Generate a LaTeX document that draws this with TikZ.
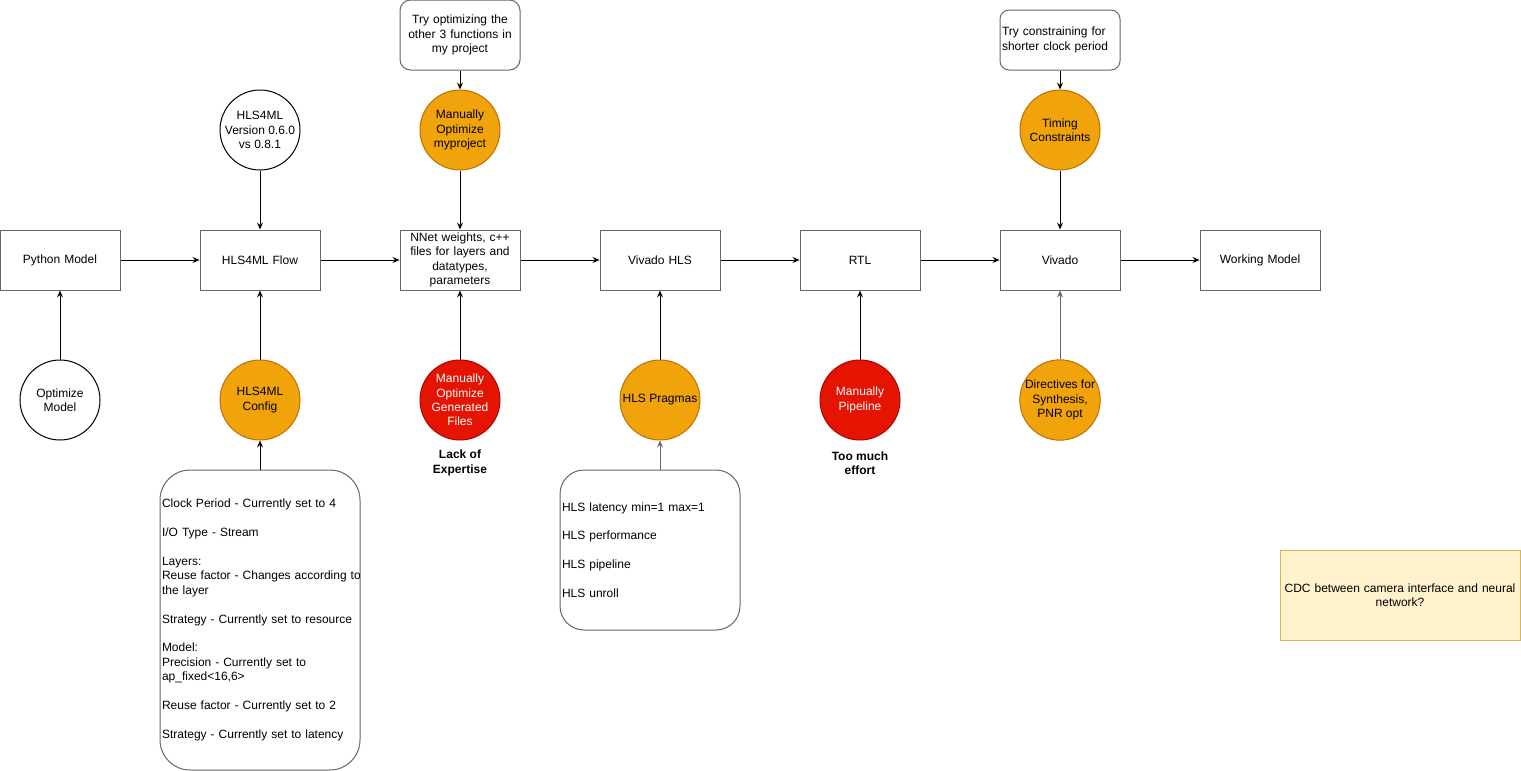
\documentclass[tikz,border=0pt]{standalone}
\usepackage{fontspec}
\setmainfont{Liberation Sans}
\usetikzlibrary{arrows.meta}
\definecolor{orf}{HTML}{F0A30A}
\definecolor{ors}{HTML}{BD7000}
\definecolor{rdf}{HTML}{E51400}
\definecolor{rds}{HTML}{B20000}
\definecolor{grs}{HTML}{666666}
\definecolor{ylf}{HTML}{FFF2CC}
\definecolor{yls}{HTML}{D6B656}
\begin{document}
\begin{tikzpicture}[x=1pt,y=-1pt,
  font=\fontsize{12}{14.4}\selectfont,
  box/.style={draw=grs, line width=1pt, fill=white, minimum width=120pt, minimum height=60pt, text width=116pt, align=center, inner sep=2pt},
  circ/.style={circle, line width=1pt, minimum size=80pt, inner sep=0pt, align=center},
  wcirc/.style={circ, draw=black, fill=white},
  ocirc/.style={circ, draw=ors, fill=orf},
  rcirc/.style={circ, draw=rds, fill=rdf, text=white},
  note/.style={draw=grs, line width=1pt, fill=white, inner sep=2pt},
  arr/.style={-{Stealth[length=7pt,width=6pt,inset=2.5pt]}, line width=1pt},
  bold/.style={font=\fontsize{12}{14.4}\selectfont\bfseries, align=center, inner sep=0pt}
]
\useasboundingbox (0,0) rectangle (1521,771);
% main row
\node[box] (pm) at (60,260) {Python Model};
\node[box] (flow) at (260,260) {HLS4ML Flow};
\node[box] (nnet) at (460,260) {NNet weights, c++\\files for layers and\\datatypes,\\parameters};
\node[box] (vhls) at (660,260) {Vivado HLS};
\node[box] (rtl) at (860,260) {RTL};
\node[box] (viv) at (1060,260) {Vivado};
\node[box] (wm) at (1260,260) {Working Model};
% top
\node[wcirc] (ver) at (260,130) {HLS4ML\\Version 0.6.0\\vs 0.8.1};
\node[ocirc] (mop) at (460,130) {Manually\\Optimize\\myproject};
\node[ocirc] (tc) at (1060,130) {Timing\\Constraints};
\node[note, rounded corners=10.5pt, minimum width=120pt, minimum height=70pt, text width=116pt, align=center] (try1) at (460,35) {Try optimizing the\\other 3 functions in\\my project};
\node[note, rounded corners=9pt, minimum width=120pt, minimum height=60pt, text width=116pt, align=left] (try2) at (1060,40) {Try constraining for\\shorter clock period};
% bottom circles
\node[wcirc] (om) at (60,400) {Optimize\\Model};
\node[ocirc] (cfg) at (260,400) {HLS4ML\\Config};
\node[rcirc] (mog) at (460,400) {Manually\\Optimize\\Generated\\Files};
\node[ocirc] (prag) at (660,400) {HLS Pragmas};
\node[rcirc] (mp) at (860,400) {Manually\\Pipeline};
\node[ocirc] (dir) at (1060,400) {Directives for\\Synthesis,\\PNR opt};
\node[bold] (lack) at (460,463) {Lack of\\Expertise};
\node[bold] (eff) at (860,463) {Too much\\effort};
% notes
\node[note, rounded corners=30pt, minimum width=200pt, minimum height=300pt, text width=196pt, align=left] (cbox) at (260,620) {Clock Period - Currently set to 4\\[14.4pt]
I/O Type - Stream\\[14.4pt]
Layers:\\
\mbox{Reuse factor - Changes according to}\\
the layer\\[14.4pt]
Strategy - Currently set to resource\\[14.4pt]
Model:\\
Precision - Currently set to\\
ap\_fixed<16,6>\\[14.4pt]
Reuse factor - Currently set to 2\\[14.4pt]
Strategy - Currently set to latency};
\node[note, rounded corners=24pt, minimum width=180pt, minimum height=160pt, text width=176pt, align=left] (pbox) at (650,550) {HLS latency min=1 max=1\\[14.4pt]
HLS performance\\[14.4pt]
HLS pipeline\\[14.4pt]
HLS unroll};
\node[draw=yls, fill=ylf, line width=1pt, minimum width=240pt, minimum height=90pt, text width=232pt, align=center] (ybox) at (1400,595) {CDC between camera interface and neural\\network?};
% arrows
\draw[arr] (pm) -- (flow);
\draw[arr] (flow) -- (nnet);
\draw[arr] (nnet) -- (vhls);
\draw[arr] (vhls) -- (rtl);
\draw[arr] (rtl) -- (viv);
\draw[arr] (viv) -- (wm);
\draw[arr] (ver) -- (flow);
\draw[arr] (try1) -- (mop);
\draw[arr] (mop) -- (nnet);
\draw[arr] (try2) -- (tc);
\draw[arr] (tc) -- (viv);
\draw[arr] (om) -- (pm);
\draw[arr] (cfg) -- (flow);
\draw[arr] (mog) -- (nnet);
\draw[arr] (prag) -- (vhls);
\draw[arr] (mp) -- (rtl);
\draw[arr, draw=grs] (dir) -- (viv);
\draw[arr] (cbox) -- (cfg);
\draw[arr, draw=grs] (pbox.north -| prag.south) -- (prag.south);
\end{tikzpicture}
\end{document}
